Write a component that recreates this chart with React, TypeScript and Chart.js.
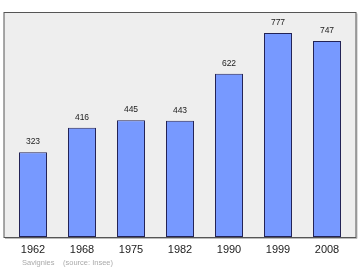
import React, { useEffect, useRef } from "react";
import { Chart, registerables } from "chart.js";

Chart.register(...registerables);

const years = ["1962", "1968", "1975", "1982", "1990", "1999", "2008"];
const population = [323, 416, 445, 443, 622, 777, 747];
const footerPlace = "Savignies";
const footerSource = "(source: Insee)";
const FONT = "'Liberation Sans', Arial, sans-serif";

export default function App() {
  const ref = useRef<HTMLCanvasElement>(null);
  useEffect(() => {
    document.body.style.margin = "0";
    const canvas = ref.current!;
    const boxPlugin = {
      id: "box",
      beforeDraw(chart: any) {
        const { ctx, chartArea } = chart;
        ctx.save();
        const x0 = chartArea.left - 4.5;
        const x1 = chartArea.right + 4.5;
        const y0 = chartArea.top + 0.5;
        const y1 = chartArea.bottom + 0.5;
        ctx.fillStyle = "#eeeeee";
        ctx.fillRect(x0, y0, x1 - x0, y1 - y0);
        ctx.strokeStyle = "#bbbbbb";
        ctx.lineWidth = 1;
        ctx.beginPath();
        ctx.moveTo(x1 + 1, y0 + 1);
        ctx.lineTo(x1 + 1, y1 + 1);
        ctx.lineTo(x0 + 1, y1 + 1);
        ctx.stroke();
        ctx.strokeStyle = "#555555";
        ctx.strokeRect(x0, y0, x1 - x0, y1 - y0);
        ctx.restore();
      },
      afterDatasetsDraw(chart: any) {
        const { ctx } = chart;
        const meta = chart.getDatasetMeta(0);
        ctx.save();
        ctx.font = `8.5px ${FONT}`;
        ctx.fillStyle = "#222222";
        ctx.textAlign = "center";
        ctx.textBaseline = "middle";
        meta.data.forEach((bar: any, i: number) => {
          ctx.fillText(String(population[i]), bar.x, bar.y - 10.5);
        });
        ctx.font = `7.5px ${FONT}`;
        ctx.fillStyle = "#aaaaaa";
        ctx.textAlign = "left";
        ctx.fillText(footerPlace, 22, 262.5);
        ctx.fillText(footerSource, 63, 262.5);
        ctx.restore();
      },
    };
    const chart = new Chart(canvas, {
      type: "bar",
      data: {
        labels: years,
        datasets: [
          {
            data: population,
            backgroundColor: "#7799ff",
            borderColor: "#222255",
            borderWidth: 1,
            borderSkipped: false,
            barPercentage: 0.571,
            categoryPercentage: 1,
          },
        ],
      },
      options: {
        animation: false,
        responsive: false,
        maintainAspectRatio: false,
        devicePixelRatio: 1,
        layout: { padding: { left: 8.5, right: 8.5, top: 12, bottom: 7.8 } },
        plugins: { legend: { display: false }, tooltip: { enabled: false } },
        scales: {
          x: {
            grid: { display: false, drawTicks: false },
            border: { display: false },
            ticks: {
              padding: 6,
              color: "#222222",
              font: { family: FONT, size: 11 },
              maxRotation: 0,
            },
          },
          y: { display: false, min: 0, max: 857 },
        },
      },
      plugins: [boxPlugin],
    });
    return () => chart.destroy();
  }, []);
  return (
    <div style={{ width: 360, height: 270 }}>
      <canvas ref={ref} width={360} height={270} style={{ display: "block" }} />
    </div>
  );
}
